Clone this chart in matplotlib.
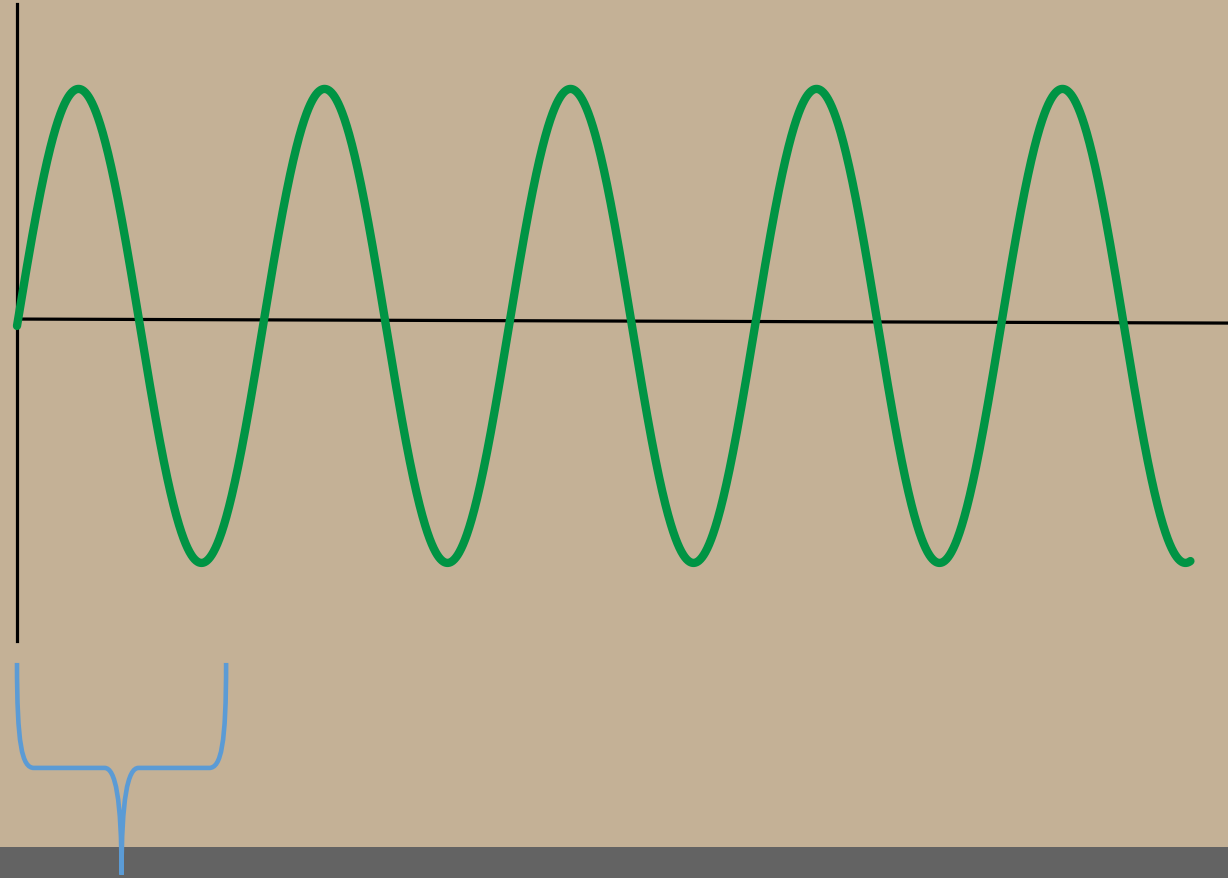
import numpy as np
import matplotlib.pyplot as plt
from matplotlib.path import Path
from matplotlib.patches import PathPatch

# wave parameters (x in cycles, y in amplitudes)
amplitude = 1.0
wave_offset = -0.025
cycles_drawn = 4.77
wave_start = 0.0

# axis extents
x_axis_end = 4.923
y_axis_top = 1.333
y_axis_bottom = -1.354

# brace under the first cycle
brace_left = 0.0
brace_right = 0.85
brace_top = -1.447
brace_mid = -1.890
brace_tip = -2.34

bg = "#C4B196"
green = "#009444"
blue = "#5B9BD5"

fig = plt.figure(figsize=(12.28, 8.79), dpi=100)
fig.patch.set_facecolor(bg)
ax = fig.add_axes([0, 0, 1, 1])
ax.set_facecolor(bg)
y_lo, y_hi = -558 / 237, 321 / 237
ax.set_xlim(-17 / 246, 1211 / 246)
ax.set_ylim(y_lo, y_hi)
ax.axis("off")

# grey strip along the bottom
ax.axhspan(y_lo, y_lo + 31 / 237, color="#636363", lw=0, zorder=1)

# axes lines
ax.plot([0, 0], [y_axis_top, y_axis_bottom], color="black", lw=2.3, zorder=2)
ax.plot([0, x_axis_end], [0.004, -0.013], color="black", lw=2.3, zorder=2)

# the wave
t = np.linspace(wave_start, cycles_drawn, 3000)
y = amplitude * np.sin(2 * np.pi * t) + wave_offset
ax.plot(t, y, color=green, lw=6, solid_capstyle="round", zorder=3)

# brace
xl, xr = brace_left, brace_right
xc = (xl + xr) / 2
dx = 0.069  # width of the corner curves
verts = [
    (xl, brace_top),
    (xl, brace_mid + 0.10), (xl + 0.02, brace_mid), (xl + dx, brace_mid),
    (xc - dx, brace_mid),
    (xc - 0.025, brace_mid), (xc, brace_mid - 0.13), (xc, brace_tip),
    (xc, brace_mid - 0.13), (xc + 0.025, brace_mid), (xc + dx, brace_mid),
    (xr - dx, brace_mid),
    (xr - 0.02, brace_mid), (xr, brace_mid + 0.10), (xr, brace_top),
]
codes = [Path.MOVETO,
         Path.CURVE4, Path.CURVE4, Path.CURVE4,
         Path.LINETO,
         Path.CURVE4, Path.CURVE4, Path.CURVE4,
         Path.CURVE4, Path.CURVE4, Path.CURVE4,
         Path.LINETO,
         Path.CURVE4, Path.CURVE4, Path.CURVE4]
ax.add_patch(PathPatch(Path(verts, codes), facecolor="none", edgecolor=blue,
                       lw=3.3, capstyle="butt", zorder=4, clip_on=False))

fig.savefig("out.png", dpi=100, facecolor=bg)
